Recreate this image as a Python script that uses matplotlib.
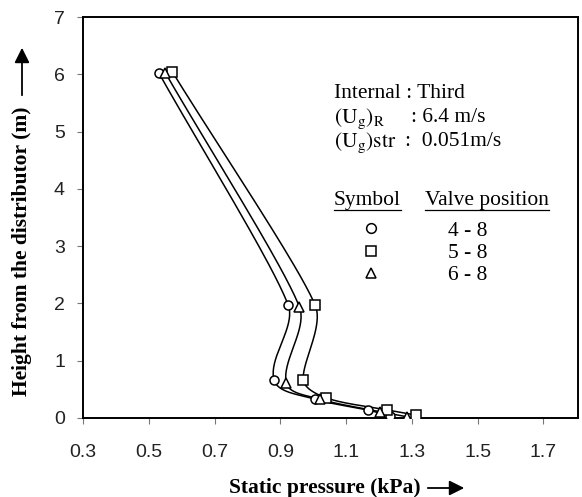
import numpy as np
import matplotlib
matplotlib.use('Agg')
from matplotlib import pyplot as plt
from matplotlib.lines import Line2D
from matplotlib.patches import FancyArrowPatch

plt.rcParams['mathtext.fontset'] = 'stix'

# data: static pressure (kPa) vs height (m)
valve_labels = ['4 - 8', '5 - 8', '6 - 8']
markers = ['o', 's', '^']

p_48 = [0.53, 0.924, 0.881, 1.006, 1.165, 1.234]
h_48 = [6.03, 1.97, 0.66, 0.33, 0.14, 0.04]

p_58 = [0.572, 1.006, 0.970, 1.040, 1.225, 1.313]
h_58 = [6.04, 1.97, 0.66, 0.35, 0.14, 0.05]

p_68 = [0.55, 0.958, 0.918, 1.020, 1.204, 1.286]
h_68 = [6.03, 1.94, 0.61, 0.33, 0.11, 0.02]

x_ticks = [0.3, 0.5, 0.7, 0.9, 1.1, 1.3, 1.5, 1.7]
y_ticks = [0, 1, 2, 3, 4, 5, 6, 7]

W, H = 582, 497


# smoothed line through the points: cubic bezier pieces laid out in screen space
def smooth(ax, x, y, k=0.3, n=40):
    P = ax.transData.transform(np.column_stack([x, y]))
    seg = np.diff(P, axis=0)
    L = np.linalg.norm(seg, axis=1)
    u = seg / L[:, None]
    D = np.zeros_like(P)
    D[0], D[-1] = u[0], u[-1]
    for i in range(1, len(P) - 1):
        d = L[i - 1] * u[i - 1] + L[i] * u[i]
        D[i] = d / np.linalg.norm(d)
    out = []
    t = np.linspace(0, 1, n)[:, None]
    for i in range(len(seg)):
        a = min(k * L[i], 0.6 * L[i - 1]) if i > 0 else k * L[i]
        b = min(k * L[i], 0.6 * L[i + 1]) if i < len(seg) - 1 else k * L[i]
        c1 = P[i] + D[i] * a
        c2 = P[i + 1] - D[i + 1] * b
        out.append((1 - t)**3 * P[i] + 3 * (1 - t)**2 * t * c1
                   + 3 * (1 - t) * t**2 * c2 + t**3 * P[i + 1])
    out = ax.transData.inverted().transform(np.vstack(out))
    return out[:, 0], out[:, 1]


fig = plt.figure(figsize=(W / 100, H / 100), dpi=100)
ax = fig.add_axes([83 / W, 1 - 418 / H, (578 - 83) / W, (418 - 17) / H])
ax.set_xlim(0.3, 1.805)
ax.set_ylim(0, 7)

series = [(p_48, h_48), (p_58, h_58), (p_68, h_68)]
for p, h in series:
    xs, ys = smooth(ax, p, h)
    ax.plot(xs, ys, color='black', lw=1.1, zorder=2)
for (p, h), m in zip(series, markers):
    ax.plot(p, h, ls='none', marker=m, ms=6.5, mfc='white', mec='black', mew=1.1, zorder=3)

ax.set_xticks(x_ticks)
ax.set_xticklabels(['%.1f' % v for v in x_ticks])
ax.set_yticks(y_ticks)
ax.set_yticklabels([str(v) for v in y_ticks])
for lab in ax.get_xticklabels() + ax.get_yticklabels():
    lab.set_family('Liberation Sans')
    lab.set_fontsize(14)
    lab.set_color('#222222')
ax.tick_params(direction='out', length=4, width=0.8, color='#777777')
ax.tick_params(axis='x', pad=15)
ax.tick_params(axis='y', pad=9)
for s in ax.spines.values():
    s.set_linewidth(1.4)

serif = 'Liberation Serif'
fs = 15.5

# annotation block
fig.text(334 / W, 1 - 93 / H, 'Internal : Third', family=serif, fontsize=fs, va='center')
fig.text(334 / W, 1 - 119 / H, r'$\mathrm{(U_g)_R}$', fontsize=fs, va='center')
fig.text(411 / W, 1 - 118 / H, ': 6.4 m/s', family=serif, fontsize=fs, va='center')
fig.text(334 / W, 1 - 143 / H, r'$\mathrm{(U_g)str}$', fontsize=fs, va='center')
fig.text(405 / W, 1 - 142 / H, ':  0.051m/s', family=serif, fontsize=fs, va='center')

t1 = fig.text(334 / W, 1 - 201 / H, 'Symbol', family=serif, fontsize=fs, va='center')
t2 = fig.text(425 / W, 1 - 201 / H, 'Valve position', family=serif, fontsize=fs, va='center')
fig.canvas.draw()
r = fig.canvas.get_renderer()
for t in (t1, t2):
    bb = t.get_window_extent(r)
    yy = (bb.y0 + 1) / H
    fig.add_artist(Line2D([bb.x0 / W, bb.x1 / W], [yy, yy], color='black', lw=0.9))

handles = [Line2D([], [], ls='none', marker=m, ms=7, mfc='white', mec='black', mew=1.1)
           for m in markers]
leg = ax.legend(handles, valve_labels, loc='upper left', bbox_to_anchor=(347 / W, 1 - 210 / H),
                bbox_transform=fig.transFigure, frameon=False, handletextpad=3.0,
                labelspacing=0.1, prop={'family': serif, 'size': fs}, borderpad=0,
                handlelength=1.2)

# axis labels with arrows
fig.text(22 / W, 1 - 251 / H, 'Height from the distributor (m)', family=serif, fontsize=15.5,
         fontweight='bold', rotation=90, ha='center', va='center')
fig.add_artist(FancyArrowPatch(
    (22 / W, 1 - 98 / H), (22 / W, 1 - 45 / H), transform=fig.transFigure,
    arrowstyle='-|>,head_length=9,head_width=4.5', lw=1.3, color='black', mutation_scale=1))

fig.text(325 / W, 1 - 488 / H, 'Static pressure (kPa)', family=serif, fontsize=15.5,
         fontweight='bold', ha='center', va='center')
fig.add_artist(FancyArrowPatch(
    (425 / W, 1 - 488 / H), (467 / W, 1 - 488 / H), transform=fig.transFigure,
    arrowstyle='-|>,head_length=9,head_width=4.5', lw=1.3, color='black', mutation_scale=1))

fig.savefig('out.png', dpi=100)
